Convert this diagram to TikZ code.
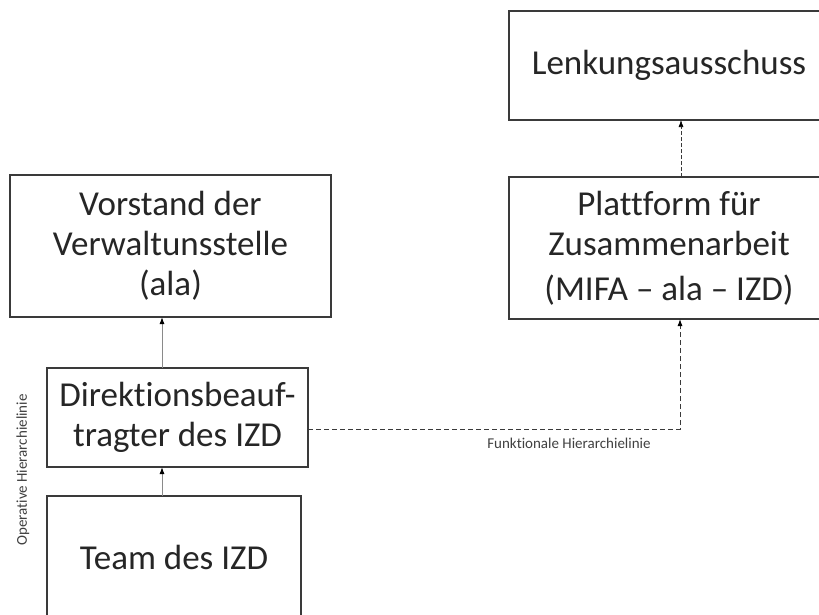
\documentclass[tikz,border=0pt]{standalone}
\usepackage{fontspec}
\setmainfont{Carlito}[Ligatures={NoCommon}]
\usetikzlibrary{arrows.meta}
\definecolor{boxline}{HTML}{3A3A3A}
\definecolor{txt}{HTML}{262626}
\definecolor{lbl}{HTML}{404040}
\definecolor{conn}{HTML}{8A8A8A}
\tikzset{
  orgbox/.style={draw=boxline, line width=1.2pt, inner sep=0pt, outer sep=0pt,
    align=center, text=txt, font=\fontsize{35}{40}\selectfont},
  lineLabel/.style={text=lbl, inner sep=0pt, font=\fontsize{15}{18}\selectfont},
  solidarr/.style={draw=conn, line width=1pt, -{Latex[length=7pt,width=5pt,color=black]}},
  dasharr/.style={draw=boxline, line width=0.9pt, dash pattern=on 5pt off 3pt,
    -{Latex[length=7pt,width=5pt,color=black]}}
}
\begin{document}
\begin{tikzpicture}[x=1pt,y=-1pt]
  \fill[white] (0,0) rectangle (819,614);
  \useasboundingbox (0,0) rectangle (819,614);

  % boxes (the right column and the bottom box run past the page edge)
  \node[orgbox, minimum width=320pt, minimum height=109pt] (lenk) at (669,65.5) {Lenkungsausschuss};
  \node[orgbox, minimum width=320pt, minimum height=142pt] (platt) at (669,248)
    {Plattform für\\Zusammenarbeit\\[5pt](MIFA -- ala -- IZD)};
  \node[orgbox, minimum width=321pt, minimum height=142pt] (vor) at (170.5,246)
    {Vorstand der\\Verwaltunsstelle\\(ala)};
  \node[orgbox, minimum width=261pt, minimum height=99pt] (dir) at (177.5,417.5)
    {Direktionsbeauf-\\tragter des IZD};
  \node[orgbox, minimum width=254pt, minimum height=122pt] (team) at (174,557) {Team des IZD};

  % operative line
  \draw[solidarr] ([xshift=-15.5pt]dir.north) -- ([xshift=-15.5pt]dir.north |- vor.south);
  \draw[solidarr] ([xshift=-12pt]team.north) -- ([xshift=-12pt]team.north |- dir.south);

  % functional line
  \draw[dasharr] ([yshift=-11.5pt]dir.east) -| ([xshift=11pt]platt.south);
  \draw[dasharr, line width=0.7pt, dash pattern=on 4pt off 2pt]
    ([xshift=12pt]platt.north) -- ([xshift=12pt]platt.north |- lenk.south);

  % line labels
  \node[lineLabel] (funk) at (569,443) {Funktionale Hierarchielinie};
  \node[lineLabel, rotate=90] (oper) at (23,470) {Operative Hierarchielinie};
\end{tikzpicture}
\end{document}
